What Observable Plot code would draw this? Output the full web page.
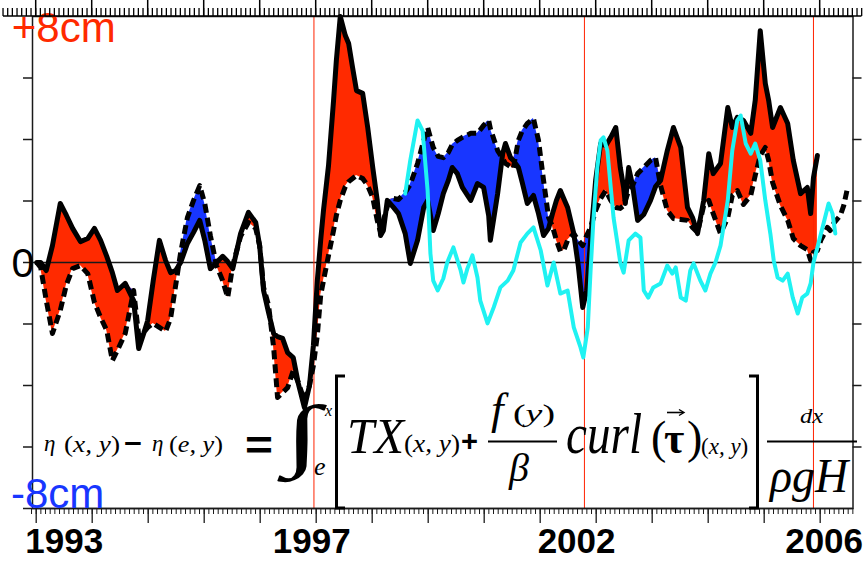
<!DOCTYPE html>
<html>
<head>
<meta charset="utf-8">
<script src="https://cdn.jsdelivr.net/npm/d3@7"></script>
<script src="https://cdn.jsdelivr.net/npm/@observablehq/plot@0.6"></script>
<style>
  html, body { margin: 0; padding: 0; background: #ffffff; overflow: hidden; }
  #chart { position: relative; width: 865px; height: 561px; }
  #chart svg { display: block; }
  #overlay { position: absolute; left: 0; top: 0; width: 865px; height: 561px; pointer-events: none; }
</style>
</head>
<body>
<div id="chart"></div>
<script>
// ---------------- data (decimal year, cm) ----------------
const time = [
  1992.01, 1992.08, 1992.18, 1992.29, 1992.43, 1992.54, 1992.65, 1992.79, 1992.92, 1993.04,
  1993.15, 1993.26, 1993.36, 1993.45, 1993.59, 1993.74, 1993.83, 1993.92, 1993.99, 1994.09,
  1994.20, 1994.31, 1994.40, 1994.49, 1994.58, 1994.70, 1994.81, 1994.92, 1995.01, 1995.11,
  1995.22, 1995.33, 1995.42, 1995.51, 1995.65, 1995.79, 1995.92, 1995.99, 1996.06, 1996.15,
  1996.24, 1996.31, 1996.40, 1996.49, 1996.59, 1996.68, 1996.79, 1996.88, 1996.95, 1997.02,
  1997.08, 1997.13, 1997.22, 1997.31, 1997.36, 1997.43, 1997.52, 1997.58, 1997.65, 1997.72,
  1997.83, 1997.92, 1998.01, 1998.09, 1998.15, 1998.20, 1998.27, 1998.38, 1998.47, 1998.59,
  1998.68, 1998.81, 1998.92, 1998.99, 1999.09, 1999.18, 1999.27, 1999.36, 1999.43, 1999.52,
  1999.61, 1999.76, 1999.88, 1999.99, 2000.08, 2000.11, 2000.24, 2000.33, 2000.38, 2000.47,
  2000.52, 2000.61, 2000.68, 2000.77, 2000.88, 2000.97, 2001.06, 2001.15, 2001.22, 2001.29,
  2001.36, 2001.42, 2001.49, 2001.60, 2001.68, 2001.76, 2001.83, 2001.90, 2001.99, 2002.08,
  2002.17, 2002.26, 2002.35, 2002.43, 2002.49, 2002.52, 2002.58, 2002.65, 2002.74, 2002.85,
  2002.97, 2003.06, 2003.15, 2003.27, 2003.38, 2003.51, 2003.63, 2003.72, 2003.81, 2003.92,
  2004.01, 2004.09, 2004.22, 2004.35, 2004.43, 2004.52, 2004.63, 2004.76, 2004.84, 2004.93,
  2005.02, 2005.08, 2005.15, 2005.29, 2005.42, 2005.52, 2005.65, 2005.77, 2005.83, 2005.88,
  2005.95
];
const solidSeries = [
  0, 0, -0.26, 0.55, 1.92, 1.53, 1.11, 0.68, 0.78, 1.11,
  0.72, 0.20, -0.33, -0.91, -0.68, -1.24, -2.80, -2.31, -1.89, -0.59,
  0.72, 0.07, -0.33, -0.26, 0, 0.62, 0.98, 1.37, 0.72, -0.20,
  0, 0.20, 0.03, -0.20, 0.94, 1.63, 1.30, 0.55, -0.91, -1.63,
  -2.31, -2.41, -2.47, -2.93, -3.09, -3.93, -4.72, -4.00, -2.70, -0.59,
  0.72, 1.69, 3.15, 5.27, 6.57, 8.0, 7.38, 7.12, 6.34, 5.59,
  5.50, 4.39, 3.09, 2.02, 0.88, 1.04, 2.02, 1.79, 1.59, 0.94,
  -0.03, 0.72, 1.79, 2.02, 1.04, 1.59, 2.24, 2.67, 3.09, 2.89,
  2.44, 2.02, 2.57, 2.44, 1.53, 0.72, 2.24, 3.54, 3.87, 3.41,
  3.32, 3.09, 2.60, 1.92, 2.18, 1.59, 0.88, 1.11, 1.59, 2.02,
  2.34, 2.08, 1.79, 0.94, -0.10, -1.46, -0.91, 0.72, 2.67, 3.87,
  3.80, 4.07, 4.39, 3.09, 2.44, 1.92, 3.09, 2.50, 1.37, 1.56,
  2.02, 2.47, 2.67, 3.64, 4.39, 3.74, 1.79, 1.46, 0.94, 2.02,
  3.54, 2.89, 3.22, 5.04, 4.39, 4.72, 4.62, 4.20, 5.27, 7.54,
  5.82, 5.27, 4.39, 5.04, 4.52, 3.32, 2.24, 2.44, 1.59, 2.76,
  3.48
];
const dashedSeries = [
  0, -0.16, -1.24, -2.31, -1.56, -0.72, -0.20, -0.10, -0.36, -1.30,
  -1.79, -2.21, -3.19, -2.86, -2.31, -0.91, -2.37, -2.28, -2.11, -1.98,
  -2.11, -2.24, -1.82, -0.75, 0.33, 1.46, 2.02, 2.50, 1.92, 0.88,
  -0.10, -0.59, -1.14, -0.10, 0.85, 1.30, 1.11, 0.55, -0.81, -1.40,
  -2.76, -4.39, -4.23, -4.07, -3.51, -3.90, -4.50, -4.00, -3.35, -2.37,
  -1.07, -0.59, 0.23, 1.04, 1.53, 2.02, 2.47, 2.63, 2.73, 2.83,
  2.73, 2.50, 2.11, 1.37, 0.98, 1.37, 1.82, 2.08, 2.05, 2.28,
  2.54, 3.22, 3.97, 4.39, 3.74, 3.45, 3.41, 3.58, 3.84, 3.97,
  4.07, 4.20, 4.20, 4.46, 4.62, 4.36, 3.64, 3.38, 3.22, 3.12,
  3.06, 3.97, 4.29, 4.52, 4.68, 3.97, 2.67, 1.46, 1.17, 0.72,
  0.36, 0.39, 0.72, 0.94, 0.72, 0.55, 0.88, 1.14, 1.69, 2.08,
  2.34, 2.02, 1.79, 1.76, 1.85, 2.02, 2.34, 2.50, 2.89, 3.09,
  3.32, 3.41, 2.50, 1.69, 1.43, 1.40, 1.37, 1.14, 0.98, 1.85,
  2.02, 1.59, 0.94, 1.46, 2.18, 2.34, 1.89, 2.18, 2.83, 3.48,
  3.74, 3.32, 2.60, 1.85, 1.37, 0.78, 0.55, 0.42, 0.07, 0.33,
  0.39
];
const dashedTailTime = [2006.01, 2006.13, 2006.18, 2006.24, 2006.36, 2006.42, 2006.49];
const dashedTail = [0.72, 1.14, 1.04, 1.27, 1.53, 1.85, 2.44];

const cyanTime = [
  1998.59, 1998.68, 1998.81, 1998.90, 1998.99, 1999.04, 1999.09, 1999.17, 1999.27, 1999.34,
  1999.45, 1999.58, 1999.63, 1999.70, 1999.79, 1999.88, 1999.93, 2000.06, 2000.17, 2000.29,
  2000.42, 2000.52, 2000.65, 2000.77, 2000.88, 2001.01, 2001.13, 2001.24, 2001.31, 2001.36,
  2001.49, 2001.60, 2001.72, 2001.77, 2001.85, 2001.90, 2001.95, 2002.02, 2002.08, 2002.13,
  2002.20, 2002.26, 2002.31, 2002.38, 2002.43, 2002.49, 2002.58, 2002.70, 2002.79, 2002.85,
  2002.93, 2003.02, 2003.15, 2003.27, 2003.36, 2003.42, 2003.51, 2003.60, 2003.68, 2003.74,
  2003.86, 2003.95, 2004.04, 2004.13, 2004.22, 2004.35, 2004.43, 2004.52, 2004.58, 2004.67,
  2004.76, 2004.84, 2004.93, 2005.02, 2005.11, 2005.17, 2005.24, 2005.33, 2005.42, 2005.51,
  2005.60, 2005.68, 2005.77, 2005.83, 2005.88, 2005.95, 2006.06, 2006.15, 2006.22, 2006.27
];
const cyanSeries = [
  2.24, 3.32, 4.62, 4.29, 2.34, 0.29, -0.59, -0.91, -0.52, 0,
  0.49, -0.26, -0.65, -0.20, 0.23, -0.49, -1.24, -1.98, -1.46, -0.81,
  -0.59, -0.26, 0.65, 0.94, 1.14, 0.39, -0.75, 0, -0.59, -1.01,
  -0.91, -2.11, -2.76, -3.09, -2.11, -0.26, 1.37, 3.09, 3.97, 4.07,
  3.64, 2.44, 1.46, 0.62, 0, -0.33, 0.72, 0.94, 0.81, -0.91,
  -1.14, -0.81, -0.68, -0.10, -0.36, -0.16, -1.14, -1.24, -0.26, -0.03,
  -0.59, -0.91, -0.36, 0, 0.55, 2.02, 3.64, 4.62, 4.78, 3.87,
  3.54, 3.87, 3.32, 2.02, 0.94, 0.07, -0.49, -0.59, -0.36, -1.14,
  -1.66, -1.14, -1.01, -0.68, 0, 0.49, 1.27, 1.92, 1.59, 0.94
];

const eventLines = [1996.96, 2001.79, 2005.88];
const yearLabels = ["1993", "1997", "2002", "2006"];
const yearLabelAt = [1992.50, 1996.92, 2001.65, 2006.07];
const yLabelText = ["+8cm", "0", "-8cm"];
const yTickValues = [-6, -4, -2, 0, 2, 4, 6];

// ---------------- derived tables ----------------
const rows = time.map((t, i) => ({t, s: solidSeries[i], d: dashedSeries[i]}));
const dashedRows = rows.map(r => ({t: r.t, v: r.d}))
  .concat(dashedTailTime.map((t, i) => ({t, v: dashedTail[i]})));
const cyanRows = cyanTime.map((t, i) => ({t, v: cyanSeries[i]}));

const majorYears = d3.range(1992, 2007);
const minorTop = d3.range(-7, 178).map(m => 1992 + m / 12);
const minorBottom = d3.range(-1, 176).map(m => 1992 + m / 12);

const xLo = 1991.934, xHi = 2006.586;      // frame edges (56 px per year)
const pxX = 1 / 56, pxY = 1 / 30.75;       // one pixel in data units
const red = "#ff2a00", blue = "#1836ff", ax = "#1a1a1a";
const sans = "'Liberation Sans', Arial, Helvetica, sans-serif";

const plot = Plot.plot({
  width: 865, height: 561,
  marginLeft: 32, marginRight: 12.5, marginTop: 16, marginBottom: 53,
  x: {domain: [xLo, xHi], axis: null},
  y: {domain: [-8, 8], axis: null},
  style: {fontFamily: sans},
  marks: [
    Plot.areaY(rows, {x: "t", y1: "d", y2: r => Math.max(r.s, r.d), fill: red, curve: "linear"}),
    Plot.areaY(rows, {x: "t", y1: "s", y2: r => Math.max(r.s, r.d), fill: blue, curve: "linear"}),
    Plot.ruleY([0], {stroke: ax, strokeWidth: 1.5}),
    Plot.ruleX(eventLines, {stroke: "#ff2200", strokeWidth: 1}),
    Plot.line(dashedRows, {x: "t", y: "v", stroke: "#000", strokeWidth: 5, strokeDasharray: "9,5", strokeLinecap: "butt", strokeLinejoin: "round"}),
    Plot.line(rows, {x: "t", y: "s", stroke: "#000", strokeWidth: 5, strokeLinejoin: "round"}),
    Plot.line(cyanRows, {x: "t", y: "v", stroke: "#1ff2f2", strokeWidth: 4, strokeLinejoin: "round"}),
    Plot.frame({stroke: ax, strokeWidth: 1.5}),
    Plot.ruleY([-8], {x1: xLo - 9 * pxX, x2: xHi, stroke: ax, strokeWidth: 1.5}),
    // bottom ticks (pointing down)
    Plot.ruleX(majorYears, {y1: -8, y2: -8 - 15 * pxY, stroke: ax, strokeWidth: 1.3}),
    Plot.ruleX(minorBottom, {y1: -8, y2: -8 - 6 * pxY, stroke: ax, strokeWidth: 1}),
    // y ticks on both sides (pointing outwards)
    Plot.ruleY(yTickValues, {x1: xLo - 9 * pxX, x2: xLo, stroke: ax, strokeWidth: 1.5}),
    Plot.ruleY(yTickValues, {x1: xHi, x2: xHi + 9 * pxX, stroke: ax, strokeWidth: 1.5}),
    Plot.text([yLabelText[0]], {frameAnchor: "top-left", text: d => d, dx: -20.7, dy: 12.4, textAnchor: "start", lineAnchor: "middle", fontSize: 42, fill: red}),
    Plot.text([yLabelText[1]], {frameAnchor: "left", y: 0, text: d => d, dx: -21, dy: 1.7, textAnchor: "start", lineAnchor: "middle", fontSize: 41, fill: "#000"}),
    Plot.text([yLabelText[2]], {frameAnchor: "bottom-left", text: d => d, dx: -21.5, dy: -13.5, textAnchor: "start", lineAnchor: "middle", fontSize: 42, fill: blue}),
    Plot.text(yearLabels, {x: (d, i) => yearLabelAt[i], text: d => d, frameAnchor: "bottom", dy: 33.5, lineAnchor: "middle", fontSize: 35, fontWeight: "bold", fill: "#000"})
  ]
});

const chartDiv = document.getElementById("chart");
chartDiv.appendChild(plot);
const svg = d3.select(plot);
const xs = plot.scale("x"), ys = plot.scale("y");
const yTop = ys.apply(8);

// ---------------- top axis: separate overlay svg, positioned with the plot's own scales ----------------
const overlay = d3.select(chartDiv).append("svg").attr("id", "overlay")
  .attr("width", 865).attr("height", 561).attr("viewBox", "0 0 865 561");
const topAxis = overlay.append("g").attr("stroke", "#000").attr("fill", "none");
topAxis.append("line")
  .attr("x1", xs.apply(xLo - 29 * pxX)).attr("x2", xs.apply(xHi + 9 * pxX))
  .attr("y1", yTop).attr("y2", yTop).attr("stroke-width", 1.6);
topAxis.selectAll("line.tmin").data(minorTop).join("line").attr("class", "tmin")
  .attr("x1", d => xs.apply(d)).attr("x2", d => xs.apply(d))
  .attr("y1", yTop).attr("y2", yTop - 8).attr("stroke-width", 1.3);
topAxis.selectAll("line.tmaj").data(majorYears).join("line").attr("class", "tmaj")
  .attr("x1", d => xs.apply(d)).attr("x2", d => xs.apply(d))
  .attr("y1", yTop).attr("y2", yTop - 16).attr("stroke-width", 1.5);

// ---------------- equation annotation ----------------
const eq = svg.append("g").attr("fill", "#000").attr("text-anchor", "start")
  .attr("font-family", "'Liberation Serif', 'Times New Roman', serif");
function put(x, y, size, parts, opt = {}) {
  const t = eq.append("text").attr("x", x).attr("y", y).attr("font-size", size).attr("text-anchor", "start");
  if (opt.len) t.attr("textLength", opt.len).attr("lengthAdjust", "spacingAndGlyphs");
  if (opt.family) t.attr("font-family", opt.family);
  if (opt.weight) t.attr("font-weight", opt.weight);
  for (const p of parts) {
    const [s, it, o = {}] = p;
    const ts = t.append("tspan").attr("font-style", it ? "italic" : "normal").text(s);
    if (o.x != null) ts.attr("x", o.x);
    if (o.y != null) ts.attr("y", o.y);
    if (o.size != null) ts.attr("font-size", o.size);
    if (o.weight != null) ts.attr("font-weight", o.weight);
  }
  return t;
}
const stroke = (d, w) => eq.append("path").attr("d", d).attr("fill", "none").attr("stroke", "#000").attr("stroke-width", w);

put(44, 451, 23, [["η", 1]]);
put(64, 452, 23, [["(", 0], ["x, y", 1], [")", 0]], {len: 56});
put(124, 453, 28, [["−", 0]], {family: sans, weight: "bold", len: 18});
put(152, 451, 23, [["η", 1]]);
put(169, 452, 23, [["(", 0], ["e, y", 1], [")", 0]], {len: 54});
put(245, 459, 40, [["=", 0]], {family: sans, weight: "bold", len: 28});
put(284, 461, 80, [["∫", 0]], {weight: "bold", len: 36});
put(325, 416, 16, [["x", 1]]);
put(314, 475, 26, [["e", 1]]);
stroke("M345,376H336.5V508H345", 3);
put(347, 453, 50, [["TX", 1]], {len: 57});
put(404, 452, 25, [["(", 0], ["x, y", 1], [")", 0]], {len: 56});
put(461, 451, 30, [["+", 0]], {family: sans, weight: "bold", len: 17});
put(491, 424, 45, [["f", 1]]);
put(513, 422, 26, [["(", 0], ["y", 1], [")", 0]], {len: 42});
stroke("M488,441.5H557", 2);
put(509, 481, 40, [["β", 1]]);
put(566, 453, 56, [["curl", 1]], {len: 76});
put(651, 453, 46, [
  ["(", 0],
  ["τ", 0, {x: 664, size: 44, weight: "bold"}],
  [")", 0, {x: 687}],
  ["(", 0, {x: 701, y: 454, size: 23}],
  ["x, y", 1, {size: 23}],
  [")", 0, {size: 23}]
]);
stroke("M667,412.5H683", 1.6);
stroke("M679,409.5L684,412.5L679,415.5", 1.4);
stroke("M749,376H757.5V508H749", 3);
put(800, 423, 22, [["dx", 1]], {len: 23});
stroke("M767,441.5H857", 2);
put(770, 492, 48, [["ρgH", 1]], {len: 78});
</script>
</body>
</html>
